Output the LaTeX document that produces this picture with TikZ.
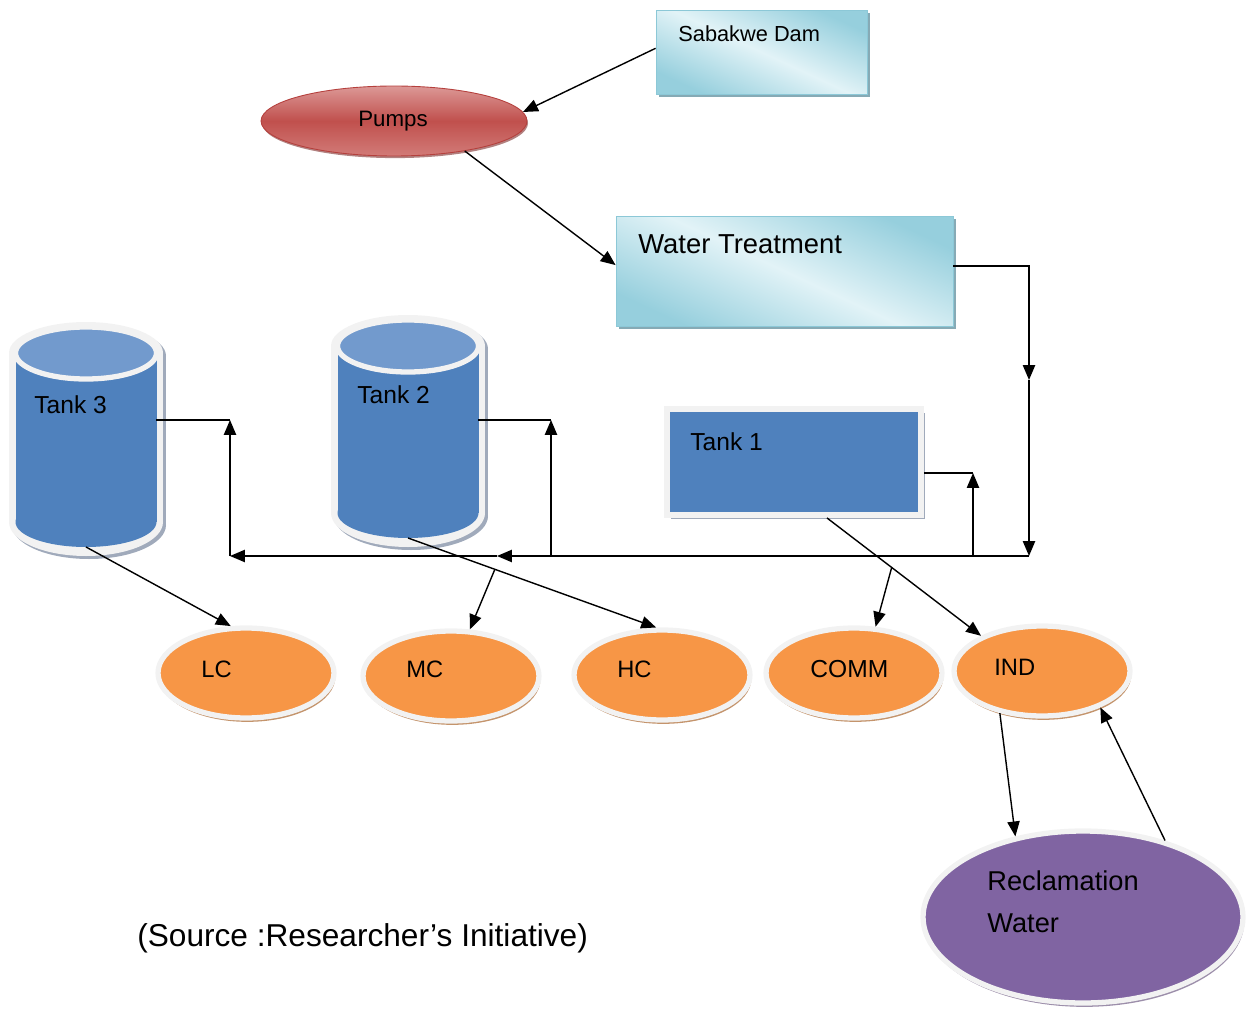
\documentclass[tikz,border=0pt]{standalone}
\usepackage{fontspec}
\setmainfont{Liberation Sans}
\usetikzlibrary{shapes.geometric,arrows.meta,shadows,calc}
\definecolor{boxDark}{HTML}{96CFDD}
\definecolor{boxLight}{HTML}{E2F3F7}
\definecolor{boxEdge}{HTML}{8CC8D7}
\definecolor{boxShadow}{HTML}{86AAB5}
\definecolor{pumpL}{HTML}{DC9896}
\definecolor{pumpD}{HTML}{C0504D}
\definecolor{pumpB}{HTML}{D27B78}
\definecolor{pumpEdge}{HTML}{B5403D}
\definecolor{ringW}{HTML}{F2F2F2}
\definecolor{orangeF}{HTML}{F79646}
\definecolor{orangeS}{HTML}{C4946C}
\definecolor{purpleF}{HTML}{8064A2}
\definecolor{purpleS}{HTML}{9C8EAA}
\definecolor{tankB}{HTML}{4F81BD}
\definecolor{tankT}{HTML}{729ACD}
\definecolor{tankS}{HTML}{A0AABB}
\begin{document}
\begin{tikzpicture}[x=0.02cm,y=-0.02cm,
  arr/.style={line width=0.8pt,-{Triangle[length=8.5pt,width=7pt]}},
  conn/.style={line width=0.8pt},
  gbox/.style={rectangle,inner sep=0,draw=boxEdge,line width=0.5pt,
    top color=boxDark,bottom color=boxDark,middle color=boxLight,shading angle=-25,
    drop shadow={shadow xshift=1.8pt,shadow yshift=-1.8pt,fill=boxShadow,opacity=1}},
  lbl/.style={anchor=base west,inner sep=0,text=black},
  oell/.style={ellipse,inner sep=0,fill=orangeF,draw=ringW,line width=3pt,
    minimum width=3.52cm,minimum height=1.8cm,
    drop shadow={shadow xshift=0.8pt,shadow yshift=-2.2pt,fill=orangeS,opacity=1}},
  hidden/.style={inner sep=0,outer sep=0}
]
\useasboundingbox (0,0) rectangle (1250,1013);

% ---------- top boxes ----------
\node[gbox,minimum width=4.22cm,minimum height=1.68cm] (dam) at (761.5,52) {};
\node[lbl,font=\fontsize{12.4pt}{14pt}\selectfont] (damT) at (678,42) {Sabakwe Dam};

\node[ellipse,inner sep=0,minimum width=5.32cm,minimum height=1.4cm,
  top color=pumpL,bottom color=pumpB,middle color=pumpD,draw=pumpEdge,line width=0.5pt,
  drop shadow={shadow xshift=0.6pt,shadow yshift=-1.2pt,fill=pumpEdge!70!black,opacity=0.6}] (pumps) at (394,121) {};
\node[lbl,font=\fontsize{12.7pt}{14pt}\selectfont] (pumpsT) at (358,127) {Pumps};

\node[gbox,minimum width=6.74cm,minimum height=2.2cm] (wt) at (784.5,271) {};
\node[lbl,font=\fontsize{15.6pt}{18pt}\selectfont] (wtT) at (638,254) {Water Treatment};

% ---------- Tank 3 cylinder ----------
\fill[tankS] (12,356) rectangle (166,525);
\fill[tankS] (89,356) ellipse [x radius=77,y radius=31];
\fill[tankS] (89,525) ellipse [x radius=77,y radius=34];
\fill[ringW] (9,353) rectangle (163,522);
\fill[ringW] (86,353) ellipse [x radius=77,y radius=31];
\fill[ringW] (86,522) ellipse [x radius=77,y radius=34];
\fill[tankB] (15.5,353) rectangle (156.5,522);
\fill[tankB] (86,522) ellipse [x radius=70.5,y radius=25];
\filldraw[fill=tankT,draw=ringW,line width=3pt] (86,353) ellipse [x radius=70.5,y radius=26];
\node[hidden,minimum width=2.82cm,minimum height=3.88cm] (tank3) at (86,450) {};
\node[lbl,font=\fontsize{14pt}{16pt}\selectfont] (tank3T) at (34,413) {Tank 3};

% ---------- Tank 2 cylinder ----------
\fill[tankS] (334,349) rectangle (488,516);
\fill[tankS] (411,349) ellipse [x radius=77,y radius=31];
\fill[tankS] (411,516) ellipse [x radius=77,y radius=34];
\fill[ringW] (331,346) rectangle (485,513);
\fill[ringW] (408,346) ellipse [x radius=77,y radius=31];
\fill[ringW] (408,513) ellipse [x radius=77,y radius=34];
\fill[tankB] (337.5,346) rectangle (478.5,513);
\fill[tankB] (408,513) ellipse [x radius=70.5,y radius=25];
\filldraw[fill=tankT,draw=ringW,line width=3pt] (408,346) ellipse [x radius=70.5,y radius=26];
\node[hidden,minimum width=2.82cm,minimum height=3.84cm] (tank2) at (408,442) {};
\node[lbl,font=\fontsize{14pt}{16pt}\selectfont] (tank2T) at (357,403) {Tank 2};

% ---------- Tank 1 ----------
\node[rectangle,inner sep=0,fill=tankB,draw=ringW,line width=3.4pt,
  minimum width=5.08cm,minimum height=2.12cm,
  drop shadow={shadow xshift=2.2pt,shadow yshift=-2.2pt,fill=tankS,opacity=1}] (tank1) at (794,462) {};
\node[lbl,font=\fontsize{14pt}{16pt}\selectfont] (tank1T) at (690,450) {Tank 1};

% ---------- consumers ----------
\node[oell] (lc) at (246,673) {};
\node[oell] (mc) at (451,676) {};
\node[oell] (hc) at (662,675) {};
\node[oell] (comm) at (854,673) {};
\node[oell] (ind) at (1042,671) {};
\node[lbl,font=\fontsize{13.5pt}{16pt}\selectfont] (lcT) at (201,677) {LC};
\node[lbl,font=\fontsize{13.5pt}{16pt}\selectfont] (mcT) at (406,677) {MC};
\node[lbl,font=\fontsize{13.5pt}{16pt}\selectfont] (hcT) at (617,677) {HC};
\node[lbl,font=\fontsize{14pt}{16pt}\selectfont] (commT) at (810,677) {COMM};
\node[lbl,font=\fontsize{13.5pt}{16pt}\selectfont] (indT) at (994,675) {IND};

\node[ellipse,inner sep=0,fill=purpleF,draw=ringW,line width=3pt,
  minimum width=6.4cm,minimum height=3.44cm,
  drop shadow={shadow xshift=0.8pt,shadow yshift=-2.2pt,fill=purpleS,opacity=1}] (rec) at (1083,917) {};
\node[lbl,font=\fontsize{15.5pt}{18pt}\selectfont] (recT1) at (987,890) {Reclamation};
\node[lbl,font=\fontsize{15.5pt}{18pt}\selectfont] (recT2) at (987,932) {Water};

\node[lbl,font=\fontsize{18pt}{21pt}\selectfont] (src) at (137,946) {(Source :Researcher’s Initiative)};

% ---------- junction coordinates ----------
\coordinate (wtm) at (1029,380);
\coordinate (jR) at (1029,556);
\coordinate (jM) at (497,556);
\coordinate (jL) at (230,556);
\coordinate (j1) at (973,556);
\coordinate (j2) at (551,556);
\coordinate (t1c) at (973,473);
\coordinate (t2c) at (551,420);
\coordinate (t3c) at (230,420);
\coordinate (t1s) at ($(tank1.south)+(33,0)$);

% ---------- connectors ----------
\draw[arr] (dam.178) -- (pumps.4);
\draw[arr] (pumps.-23) -- (wt.178);
\draw[arr] ($(wt.east)+(0,-5)$) -| (wtm);
\draw[arr] (wtm) -- (jR);
\draw[arr] (jR) -- (jM);
\draw[arr] (jM) -- (jL);
\draw[conn] ($(tank1.east)+(0,11)$) -- (t1c);
\draw[arr] (j1) -- (t1c);
\draw[conn] ($(tank2.east)+(0,-22)$) -- (t2c);
\draw[arr] (j2) -- (t2c);
\draw[conn] ($(tank3.east)+(0,-30)$) -- (t3c);
\draw[arr] (jL) -- (t3c);

\draw[arr] (tank3.south) -- (lc.108);
\draw[arr] (tank2.south) -- (hc.97);
\draw[arr] (t1s) -- (ind.150);
\coordinate (b2) at ($(tank2.south)!0.35!(hc.97)$);
\coordinate (b1) at ($(t1s)!0.42!(ind.150)$);
\draw[arr] (b2) -- (mc.68);
\draw[arr] (b1) -- (comm.65);
\draw[arr] (ind.-135) -- (rec.130);
\draw[arr] (rec.43) -- (ind.-32);
\end{tikzpicture}
\end{document}
